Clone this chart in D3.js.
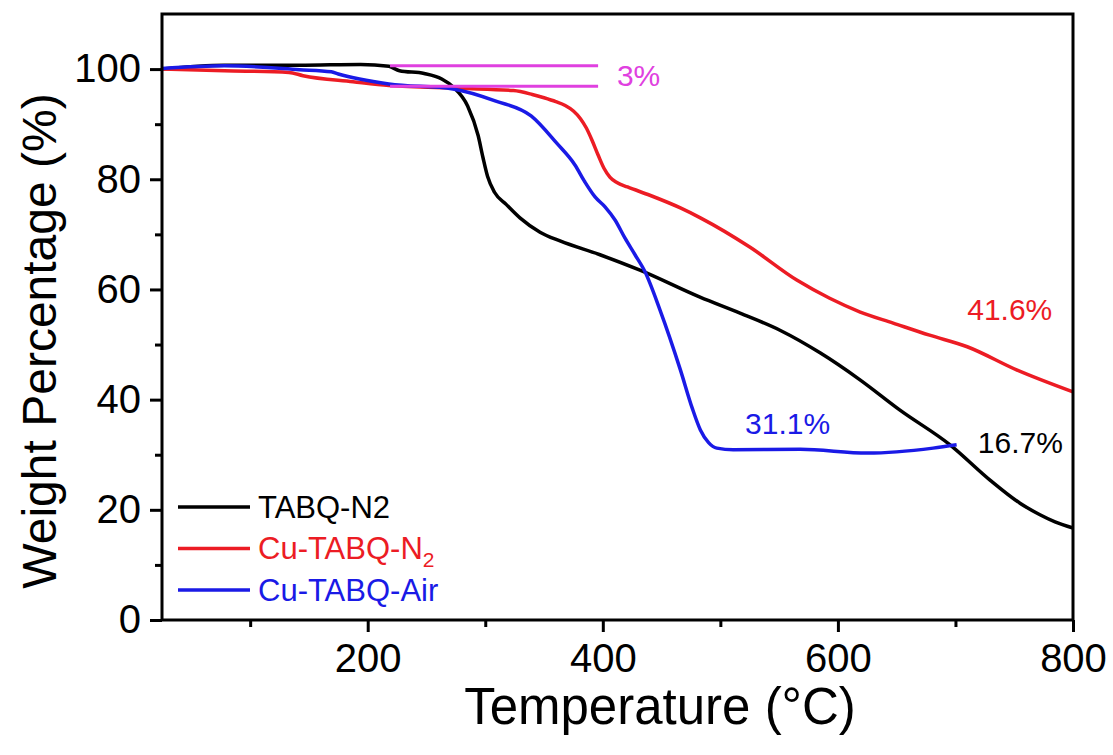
<!DOCTYPE html>
<html>
<head>
<meta charset="utf-8">
<script src="https://cdn.jsdelivr.net/npm/d3@7"></script>
<style>
  body { margin: 0; background: #fff; }
  text { font-family: Arial, "Liberation Sans", sans-serif; }
</style>
</head>
<body>
<svg id="chart" width="1113" height="755"></svg>
<script>
// TGA curves: [temperature (°C), weight (%)]
var tabqN2 = [
  [25, 100], [78, 100.7], [142, 100.7], [194, 100.85], [218, 100.5], [227, 99.7],
  [248, 99.2], [263, 98.2], [273, 96.7], [285, 93.3], [294, 87.9], [298, 84],
  [302, 80.5], [308, 77.6], [318, 75.4], [329.5, 73], [346.6, 70.4], [363.6, 68.8],
  [397.6, 66.3], [431.6, 63.5], [482.7, 58.6], [516.7, 55.7], [550.7, 52.6],
  [584.8, 48.5], [618.8, 43.6], [652.8, 38.1], [695.4, 31.8], [729.4, 25.4],
  [754.9, 21.2], [771.9, 19.1], [784.7, 17.8], [800, 16.7]
];
var cuTabqN2 = [
  [25, 100], [78, 99.7], [133, 99.4], [145, 98.8], [187.5, 97.7], [218, 97],
  [278.7, 96.5], [324, 96.1], [340, 95.4], [350, 94.8], [360, 94.1], [368, 93.4],
  [375, 92.4], [381, 91.0], [386, 89.3], [391, 87.0], [396, 84.4], [401, 82.0],
  [406, 80.4], [412, 79.4], [421, 78.6], [440, 77.1], [466, 74.8], [483, 73],
  [525, 67.7], [565, 61.7], [593, 58.4], [619, 55.9], [647, 53.9], [678, 51.7],
  [710, 49.6], [752, 45.4], [800, 41.4]
];
var cuTabqAir = [
  [25, 100.1], [78, 100.6], [142, 99.9], [169, 99.5], [175, 99.1], [218, 97.3],
  [272.6, 96.4], [309, 94.2], [339, 91.5], [361, 86.5], [376.3, 82.6], [384.8, 79.5],
  [393.4, 76.8], [401.9, 75.0], [410.4, 72.6], [418.9, 69.3], [427.4, 66.3],
  [435.9, 63.2], [448.6, 56.3], [466, 45.4], [476, 38.5], [483, 34.5], [490, 32.2],
  [497, 31.2], [511, 30.9], [568, 31.0], [625, 30.3], [681, 31.2], [701, 31.8]
];

var seriesNames = ["TABQ-N2", "Cu-TABQ-N2", "Cu-TABQ-Air"];
var seriesColors = ["#000000", "#ec1c24", "#1a1ae6"];

var xMajorTicks = [200, 400, 600, 800];
var xMinorTicks = [100, 300, 500, 700];
var yMajorTicks = [0, 20, 40, 60, 80, 100];
var yMinorTicks = [10, 30, 50, 70, 90];

// the 3% loss marker and the end-point labels
var lossLines = [[219, 396, 100.6], [219, 396, 96.9]];
var endLabels = [
  { text: "3%", x: 412, y: 97.0, color: "#e040e0" },
  { text: "41.6%", x: 710, y: 54.5, color: "#ec1c24" },
  { text: "31.1%", x: 521, y: 33.8, color: "#1a1ae6" },
  { text: "16.7%", x: 719, y: 30.4, color: "#000000" }
];

var svg = d3.select("#chart");
var plotLeft = 162, plotRight = 1073, plotTop = 14, plotBottom = 620;

var x = d3.scaleLinear().domain([25, 800]).range([plotLeft, plotRight]);
var y = d3.scaleLinear().domain([0, 110]).range([plotBottom, plotTop]);

var line = d3.line()
    .x(function (d) { return x(d[0]); })
    .y(function (d) { return y(d[1]); })
    .curve(d3.curveMonotoneX);

// curves
[tabqN2, cuTabqN2, cuTabqAir].forEach(function (data, i) {
  svg.append("path")
      .datum(data)
      .attr("fill", "none")
      .attr("stroke", seriesColors[i])
      .attr("stroke-width", 3.5)
      .attr("stroke-linejoin", "round")
      .attr("d", line);
});

// magenta 3% lines
svg.selectAll("line.loss")
    .data(lossLines)
  .enter().append("line")
    .attr("class", "loss")
    .attr("x1", function (d) { return x(d[0]); })
    .attr("x2", function (d) { return x(d[1]); })
    .attr("y1", function (d) { return y(d[2]); })
    .attr("y2", function (d) { return y(d[2]); })
    .attr("stroke", "#e040e0")
    .attr("stroke-width", 3);

svg.selectAll("text.endlabel")
    .data(endLabels)
  .enter().append("text")
    .attr("class", "endlabel")
    .attr("x", function (d) { return x(d.x); })
    .attr("y", function (d) { return y(d.y); })
    .attr("fill", function (d) { return d.color; })
    .attr("font-size", 30)
    .text(function (d) { return d.text; });

// axes
var xAxis = svg.append("g")
    .attr("transform", "translate(0," + plotBottom + ")")
    .call(d3.axisBottom(x).tickValues(xMajorTicks).tickSize(12).tickSizeOuter(0).tickPadding(12));
var xMinor = svg.append("g")
    .attr("transform", "translate(0," + plotBottom + ")")
    .call(d3.axisBottom(x).tickValues(xMinorTicks).tickSize(7).tickFormat(""));
var yAxis = svg.append("g")
    .attr("transform", "translate(" + plotLeft + ",0)")
    .call(d3.axisLeft(y).tickValues(yMajorTicks).tickSize(12).tickSizeOuter(0).tickPadding(9));
var yMinor = svg.append("g")
    .attr("transform", "translate(" + plotLeft + ",0)")
    .call(d3.axisLeft(y).tickValues(yMinorTicks).tickSize(7).tickFormat(""));

[xAxis, xMinor, yAxis, yMinor].forEach(function (g) {
  g.select(".domain").remove();
  g.selectAll(".tick line").attr("stroke", "#000").attr("stroke-width", 3);
  g.selectAll(".tick text")
      .attr("fill", "#000")
      .attr("font-size", 40)
      .attr("font-family", "Arial, 'Liberation Sans', sans-serif");
});

// frame
svg.append("rect")
    .attr("x", plotLeft)
    .attr("y", plotTop)
    .attr("width", plotRight - plotLeft)
    .attr("height", plotBottom - plotTop)
    .attr("fill", "none")
    .attr("stroke", "#000")
    .attr("stroke-width", 3);

// axis titles
svg.append("text")
    .attr("x", 660)
    .attr("y", 724)
    .attr("text-anchor", "middle")
    .attr("font-size", 51)
    .text("Temperature (\u00B0C)");

svg.append("text")
    .attr("transform", "translate(56,341) rotate(-90)")
    .attr("text-anchor", "middle")
    .attr("font-size", 48)
    .text("Weight Percentage (%)");

// legend
var legend = svg.append("g").attr("transform", "translate(178,507)");
var rows = legend.selectAll("g")
    .data(seriesNames)
  .enter().append("g")
    .attr("transform", function (d, i) { return "translate(0," + (i * 41.5) + ")"; });
rows.append("line")
    .attr("x1", 0).attr("x2", 72)
    .attr("stroke", function (d, i) { return seriesColors[i]; })
    .attr("stroke-width", 3.5);
var labels = rows.append("text")
    .attr("x", 80)
    .attr("dy", "0.35em")
    .attr("font-size", 31)
    .attr("fill", function (d, i) { return seriesColors[i]; });
labels.each(function (d) {
  var t = d3.select(this);
  if (d === "Cu-TABQ-N2") {
    t.append("tspan").text("Cu-TABQ-N");
    t.append("tspan").attr("font-size", 21).attr("dy", 8).text("2");
  } else {
    t.text(d);
  }
});
</script>
</body>
</html>
